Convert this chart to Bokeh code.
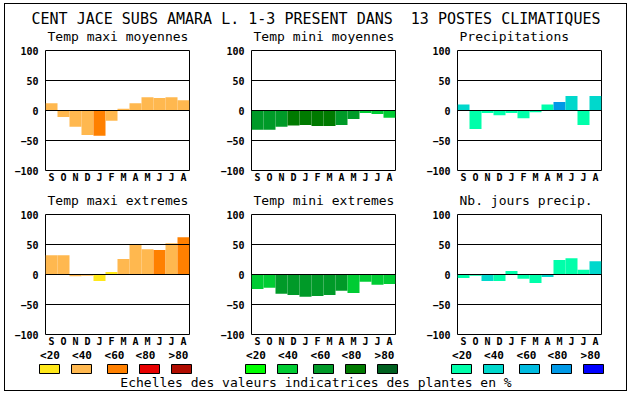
import numpy as np
from bokeh.plotting import figure
from bokeh.layouts import row, column
from bokeh.models import Range1d, FixedTicker, ColumnDataSource, Spacer
from bokeh.core.properties import value
from bokeh.embed import file_html
from bokeh.resources import INLINE

# ---------------- data ----------------
main_title = "CENT JACE SUBS AMARA L. 1-3 PRESENT DANS \u00a013 POSTES CLIMATIQUES"
footer = "Echelles des valeurs indicatrices des plantes en %"
months = ["S", "O", "N", "D", "J", "F", "M", "A", "M", "J", "J", "A"]
y_ticks = [-100, -50, 0, 50, 100]
grid_vals = [-50, 0, 50]
scale_labels = ["<20", "<40", "<60", "<80", ">80"]

oranges = ["#FFE81A", "#FFB84F", "#FF8000", "#E80000", "#B00C00"]
greens = ["#00FF00", "#00CC33", "#009A28", "#007A00", "#006020"]
blues = ["#00FFAA", "#00D8CC", "#00BBE0", "#0099E6", "#0000FF"]

tmax_moy = [12, -11, -27, -41, -42, -17, 3, 12, 22, 21, 22, 17]
tmax_moy_cls = [1, 1, 1, 1, 2, 1, 1, 1, 1, 1, 1, 1]

tmin_moy = [-32, -32, -27, -25, -24, -26, -26, -24, -14, -4, -6, -12]
tmin_moy_cls = [2, 2, 2, 3, 3, 3, 3, 2, 2, 1, 1, 1]

precip = [10, -31, -4, -8, -4, -13, -3, 10, 14, 24, -24, 24]
precip_cls = [1, 0, 0, 0, 0, 0, 0, 0, 3, 1, 0, 1]

tmax_ext = [32, 32, -3, -2, -11, 4, 26, 49, 42, 41, 52, 62]
tmax_ext_cls = [1, 1, 1, 1, 0, 0, 1, 1, 1, 2, 1, 2]

tmin_ext = [-24, -22, -32, -34, -37, -36, -34, -27, -31, -12, -17, -16]
tmin_ext_cls = [1, 1, 2, 2, 2, 2, 2, 2, 1, 1, 1, 1]

njours = [-6, -2, -11, -11, 6, -7, -14, -4, 24, 27, 8, 22]
njours_cls = [0, 0, 1, 0, 0, 0, 0, 1, 0, 0, 0, 1]

panels_top = [
    ("Temp maxi moyennes", tmax_moy, tmax_moy_cls, oranges),
    ("Temp mini moyennes", tmin_moy, tmin_moy_cls, greens),
    ("Precipitations", precip, precip_cls, blues),
]
panels_bottom = [
    ("Temp maxi extremes", tmax_ext, tmax_ext_cls, oranges),
    ("Temp mini extremes", tmin_ext, tmin_ext_cls, greens),
    ("Nb. jours precip.", njours, njours_cls, blues),
]
legend_palettes = [oranges, greens, blues]

# ---------------- layout constants ----------------
MONO = "DejaVu Sans Mono"
OFF_X, OFF_Y = 4, 3
INNER_W, INNER_H = 621, 386
COL_W = [206, 206, 209]
FRAME_L = 40
FRAME_W = 144
TOP_H = 40          # main title + first-row panel titles
ROW1 = dict(h=148, bt=6, bb=22)
MID_H = 16          # second-row panel titles
ROW2 = dict(h=141, bt=6, bb=15)
LEG_H = INNER_H - TOP_H - ROW1["h"] - MID_H - ROW2["h"]
COL_LEFT = [sum(COL_W[:i]) for i in range(3)]


def strip(height):
    f = figure(width=INNER_W, height=height, x_range=Range1d(0, INNER_W),
               y_range=Range1d(height, 0), output_backend="svg",
               toolbar_location=None, x_axis_type=None, y_axis_type=None,
               min_border=0, outline_line_color=None)
    f.grid.visible = False
    return f


def panel_titles(f, panels, y):
    f.text(x=[c + FRAME_L + 2 for c in COL_LEFT], y=[y] * len(panels),
           text=[t for t, *_ in panels], text_font=value(MONO),
           text_font_size="13px", text_align="left", text_baseline="middle",
           text_color="black")


def make_panel(vals, cls, palette, width, h, bt, bb):
    p = figure(width=width, height=h,
               x_range=Range1d(-0.5, 11.5), y_range=Range1d(-100, 100),
               output_backend="svg", toolbar_location=None,
               min_border_left=FRAME_L, min_border_right=width - FRAME_L - FRAME_W,
               min_border_top=bt, min_border_bottom=bb)
    src = ColumnDataSource(dict(x=list(range(len(vals))), top=vals,
                                color=[palette[c] for c in cls]))
    p.vbar(x="x", top="top", bottom=0, width=1, fill_color="color",
           line_color=None, source=src)
    p.outline_line_color = "black"
    p.outline_line_width = 1
    p.outline_line_alpha = 1
    p.background_fill_color = "white"
    p.border_fill_color = "white"

    p.xgrid.visible = False
    p.ygrid.ticker = FixedTicker(ticks=grid_vals)
    p.ygrid.grid_line_color = "black"
    p.ygrid.grid_line_width = 1
    p.ygrid.level = "overlay"

    ya = p.yaxis[0]
    ya.ticker = FixedTicker(ticks=y_ticks)
    ya.axis_line_color = None
    ya.major_tick_line_color = None
    ya.minor_tick_line_color = None
    ya.major_tick_out = 0
    ya.major_tick_in = 0
    ya.major_label_standoff = 7
    ya.major_label_text_font = MONO
    ya.major_label_text_font_size = "10px"
    ya.major_label_text_font_style = "bold"
    ya.major_label_text_color = "black"

    xa = p.xaxis[0]
    xa.ticker = FixedTicker(ticks=list(range(len(months))))
    xa.major_label_overrides = {i: m for i, m in enumerate(months)}
    xa.axis_line_color = None
    xa.major_tick_line_color = None
    xa.minor_tick_line_color = None
    xa.major_tick_out = 0
    xa.major_tick_in = 0
    xa.major_label_standoff = 1
    xa.major_label_text_font = MONO
    xa.major_label_text_font_size = "10px"
    xa.major_label_text_font_style = "bold"
    xa.major_label_text_color = "black"
    return p


top_figs = [make_panel(v, c, pal, COL_W[i], **ROW1)
            for i, (t, v, c, pal) in enumerate(panels_top)]
bot_figs = [make_panel(v, c, pal, COL_W[i], **ROW2)
            for i, (t, v, c, pal) in enumerate(panels_bottom)]

# ---------------- main title + first-row titles ----------------
tf = strip(TOP_H)
tf.text(x=[INNER_W / 2], y=[14.5], text=[main_title], text_font=value(MONO),
        text_font_size="15px", text_align="center", text_baseline="middle",
        text_color="black")
panel_titles(tf, panels_top, 32)

# ---------------- second-row titles ----------------
mf = strip(MID_H)
panel_titles(mf, panels_bottom, 8)

# ---------------- colour scale legend ----------------
lf = strip(LEG_H)
box_off = [-6, 26, 62, 94, 126]
lab_off = [4.5, 36.5, 69, 100, 133]
lx, lt, bl, br, bc = [], [], [], [], []
for g, pal in enumerate(legend_palettes):
    fl = COL_LEFT[g] + FRAME_L
    for k in range(5):
        lx.append(fl + lab_off[k])
        lt.append(scale_labels[k])
        bl.append(fl + box_off[k])
        br.append(fl + box_off[k] + 20)
        bc.append(pal[k])
lf.text(x=lx, y=[5.5] * len(lx), text=lt, text_font=value(MONO),
        text_font_size="11px", text_font_style="bold", text_align="center",
        text_baseline="middle", text_color="black")
lf.quad(left=bl, right=br, top=[15] * len(bl), bottom=[24] * len(bl),
        fill_color=bc, line_color="black", line_width=1)
lf.text(x=[INNER_W / 2], y=[32.5], text=[footer], text_font=value(MONO),
        text_font_size="13px", text_align="center", text_baseline="middle",
        text_color="black")

inner = column(tf, row(*top_figs, spacing=0), mf, row(*bot_figs, spacing=0),
               lf, spacing=0)
black = {"background-color": "black"}
box = column(
    Spacer(width=INNER_W + 2, height=1, styles=black),
    row(Spacer(width=1, height=INNER_H, styles=black), inner,
        Spacer(width=1, height=INNER_H, styles=black), spacing=0),
    Spacer(width=INNER_W + 2, height=1, styles=black),
    spacing=0)
whole = column(Spacer(width=OFF_X + INNER_W + 2, height=OFF_Y),
               row(Spacer(width=OFF_X, height=INNER_H + 2), box, spacing=0),
               spacing=0)

open("out.html", "w").write(file_html(whole, INLINE))
